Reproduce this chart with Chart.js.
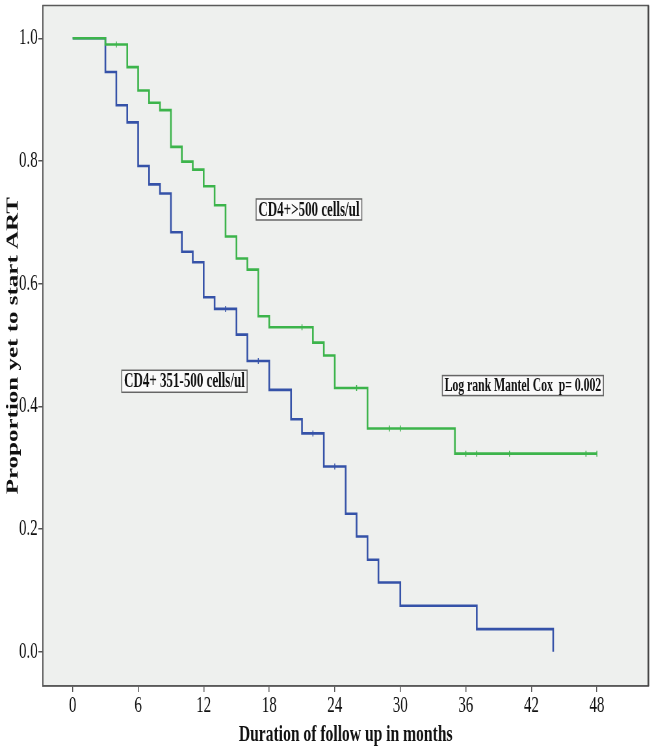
<!DOCTYPE html>
<html lang="en">
<head>
<meta charset="UTF-8">
<title>Time to ART by CD4 group</title>
<script src="https://cdn.jsdelivr.net/npm/chart.js"></script>
<style>
    body { margin: 0; background: #ffffff; }
</style>
</head>
<body>
<!-- the original figure is squeezed sideways, so draw wide and shrink the canvas -->
<canvas id="kmChart" width="1003" height="749" style="width:652px;height:749px;display:block"></canvas>
<script>
    // Kaplan-Meier steps (months, proportion)
    const highTimes  = [0, 3, 5, 6, 7, 8, 9, 10, 11, 12, 13, 14, 15, 16, 17, 18, 22, 23, 24, 27, 35, 48];
    const highValues = [1.0, 0.990, 0.953, 0.915, 0.895, 0.883, 0.823, 0.799, 0.786, 0.759, 0.728, 0.677, 0.641, 0.623, 0.547, 0.529, 0.504, 0.483, 0.430, 0.364, 0.323, 0.323];
    const highCensorTimes  = [4, 21, 26, 29, 30, 36, 37, 40, 47, 48];
    const highCensorValues = [0.990, 0.529, 0.430, 0.364, 0.364, 0.323, 0.323, 0.323, 0.323, 0.323];

    const midTimes  = [0, 3, 4, 5, 6, 7, 8, 9, 10, 11, 12, 13, 15, 16, 18, 20, 21, 23, 25, 26, 27, 28, 30, 37, 44];
    const midValues = [1.0, 0.945, 0.891, 0.863, 0.792, 0.762, 0.747, 0.684, 0.652, 0.635, 0.578, 0.559, 0.517, 0.474, 0.427, 0.379, 0.356, 0.302, 0.225, 0.188, 0.150, 0.113, 0.075, 0.037, 0.0];
    const midCensorTimes  = [14, 17, 22, 24];
    const midCensorValues = [0.559, 0.474, 0.356, 0.302];

    const xTickValues = [0, 6, 12, 18, 24, 30, 36, 42, 48];
    const yTickValues = [0.0, 0.2, 0.4, 0.6, 0.8, 1.0];

    const labelTexts = ['CD4+>500 cells/ul', 'CD4+ 351-500 cells/ul', 'Log rank Mantel Cox  p= 0.002'];

    // where the boxed notes sit (left edge in months, centre in proportion)
    const notes = [
        { x: 16.8, y: 0.721, size: 20, h: 21 },
        { x: 4.5, y: 0.441, size: 20, h: 22 },
        { x: 33.85, y: 0.434, size: 18, h: 20 }
    ];

    const green = '#3cb44b';
    const blue = '#3552a8';
    const serif = "'Liberation Serif', 'Times New Roman', serif";

    function toPoints(xs, ys) {
        return xs.map((x, i) => ({ x: x, y: ys[i] }));
    }

    function noPad(s) {
        s.paddingTop = 0;
        s.paddingBottom = 0;
        s.paddingLeft = 0;
        s.paddingRight = 0;
    }

    const frame = {
        id: 'frame',
        beforeDraw(chart) {
            const a = chart.chartArea;
            const ctx = chart.ctx;
            ctx.save();
            ctx.fillStyle = '#eef0ee';
            ctx.fillRect(a.left, a.top, a.right - a.left, a.bottom - a.top);
            ctx.restore();
        },
        afterDraw(chart) {
            const a = chart.chartArea;
            const ctx = chart.ctx;
            ctx.save();
            ctx.strokeStyle = '#5a5a5a';
            ctx.lineWidth = 1.5;
            ctx.strokeRect(a.left, a.top, a.right - a.left, a.bottom - a.top);
            ctx.strokeStyle = '#444';
            ctx.lineWidth = 2.5;
            ctx.beginPath();
            ctx.moveTo(a.right, a.top);
            ctx.lineTo(a.right, a.bottom);
            ctx.stroke();

            const xs = chart.scales.x, ys = chart.scales.y;
            ctx.textBaseline = 'middle';
            labelTexts.forEach((t, i) => {
                const n = notes[i];
                ctx.font = 'bold ' + n.size + 'px ' + serif;
                const px = xs.getPixelForValue(n.x);
                const py = ys.getPixelForValue(n.y);
                const w = ctx.measureText(t).width + 7;
                ctx.fillStyle = '#fafafa';
                ctx.fillRect(px, py - n.h / 2, w, n.h);
                ctx.strokeStyle = '#666';
                ctx.lineWidth = 1.5;
                ctx.strokeRect(px, py - n.h / 2, w, n.h);
                ctx.fillStyle = '#111';
                ctx.fillText(t, px + 3.5, py + 1);
            });
            ctx.restore();
        }
    };

    new Chart(document.getElementById('kmChart'), {
        type: 'line',
        data: {
            datasets: [
                {
                    label: 'CD4+>500 cells/ul',
                    data: toPoints(highTimes, highValues),
                    borderColor: green, borderWidth: 2.6, stepped: true,
                    pointRadius: 0, fill: false
                },
                {
                    label: 'CD4+ 351-500 cells/ul',
                    data: toPoints(midTimes, midValues),
                    borderColor: blue, borderWidth: 2.6, stepped: true,
                    pointRadius: 0, fill: false
                },
                {
                    label: 'censored >500',
                    data: toPoints(highCensorTimes, highCensorValues),
                    showLine: false, pointStyle: 'line', rotation: 90,
                    pointRadius: 3, borderColor: green, borderWidth: 1.5
                },
                {
                    label: 'censored 351-500',
                    data: toPoints(midCensorTimes, midCensorValues),
                    showLine: false, pointStyle: 'line', rotation: 90,
                    pointRadius: 3, borderColor: blue, borderWidth: 1.5
                }
            ]
        },
        options: {
            responsive: false,
            animation: false,
            layout: { padding: { left: 0, right: 3, top: 2, bottom: 0 } },
            plugins: {
                legend: { display: false },
                tooltip: { enabled: false }
            },
            scales: {
                x: {
                    type: 'linear',
                    min: -2.72, max: 52.72,
                    afterBuildTicks: s => { s.ticks = xTickValues.map(v => ({ value: v })); },
                    afterFit: s => { s.height = 63; noPad(s); },
                    grid: { drawOnChartArea: false, drawTicks: true, tickLength: 6, color: '#555', lineWidth: 1.5 },
                    border: { display: true, color: '#5a5a5a', width: 1.5 },
                    ticks: { color: '#111', font: { family: serif, size: 23 }, padding: 0, maxRotation: 0, autoSkip: false },
                    title: {
                        display: true, text: 'Duration of follow up in months',
                        color: '#111', font: { family: serif, size: 24, weight: 'bold' },
                        padding: { top: 0, bottom: 0 }
                    }
                },
                y: {
                    type: 'linear',
                    min: -0.0557, max: 1.0535,
                    afterBuildTicks: s => { s.ticks = yTickValues.map(v => ({ value: v })); },
                    afterFit: s => { s.width = 66; noPad(s); },
                    grid: { drawOnChartArea: false, drawTicks: true, tickLength: 7, color: '#555', lineWidth: 1.5 },
                    border: { display: true, color: '#5a5a5a', width: 1.5 },
                    ticks: {
                        color: '#111', font: { family: serif, size: 23 }, padding: 1,
                        callback: v => Number(v).toFixed(1)
                    },
                    title: {
                        display: true, text: 'Proportion yet to start ART',
                        color: '#111', font: { family: serif, size: 25, weight: 'bold' },
                        padding: { top: 6, bottom: 0 }
                    }
                }
            }
        },
        plugins: [frame]
    });
</script>
</body>
</html>
